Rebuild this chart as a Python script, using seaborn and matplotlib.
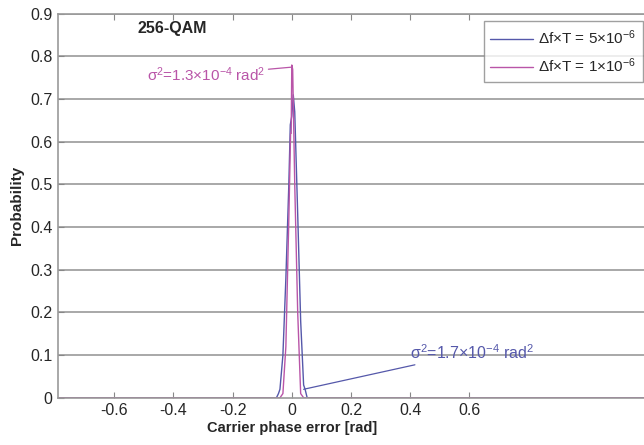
import numpy as np
import pandas as pd
import matplotlib
matplotlib.use("Agg")
import matplotlib.pyplot as plt
import seaborn as sns

# phase error histograms
x_5e6 = [-0.8, -0.06, -0.052, -0.045, -0.04, -0.03, -0.02, -0.01, -0.005, 0.0, 0.005, 0.01, 0.02, 0.03, 0.04, 0.045, 0.052, 0.06, 1.2]
p_5e6 = [0.0, 0.0, 0.0, 0.01, 0.02, 0.10, 0.28, 0.50, 0.64, 0.66, 0.71, 0.67, 0.43, 0.18, 0.03, 0.02, 0.0, 0.0, 0.0]

x_1e6 = [-0.8, -0.04, -0.03, -0.02, -0.01, -0.004, -0.002, 0.0, 0.003, 0.01, 0.02, 0.03, 0.04, 1.2]
p_1e6 = [0.0, 0.0, 0.01, 0.12, 0.42, 0.62, 0.62, 0.78, 0.77, 0.50, 0.20, 0.01, 0.0, 0.0]

xticks = [-0.6, -0.4, -0.2, 0, 0.2, 0.4, 0.6]
xtick_labels = ["-0.6", "-0.4", "-0.2", "0", "0.2", "0.4", "0.6"]
yticks = [0, 0.1, 0.2, 0.3, 0.4, 0.5, 0.6, 0.7, 0.8, 0.9]
ytick_labels = ["0", "0.1", "0.2", "0.3", "0.4", "0.5", "0.6", "0.7", "0.8", "0.9"]

blue = "#5558aa"
magenta = "#b955a8"

sns.set_style("white")
plt.rcParams["font.family"] = ["Liberation Sans", "DejaVu Sans"]
plt.rcParams["mathtext.fontset"] = "custom"
plt.rcParams["mathtext.rm"] = "Liberation Sans"
plt.rcParams["mathtext.it"] = "Liberation Sans:italic"

fig = plt.figure(figsize=(6.44, 4.45), dpi=100)
ax = fig.add_axes([0.09, 0.106, 0.91, 0.863])

for y in yticks[1:]:
    ax.axhline(y, color="#a8a8a8", lw=1.4, zorder=0)

sns.lineplot(x=x_5e6, y=p_5e6, ax=ax, color=blue, lw=1.0,
             label="Δf×T = 5×10$^{-6}$", sort=False)
sns.lineplot(x=x_1e6, y=p_1e6, ax=ax, color=magenta, lw=1.0,
             label="Δf×T = 1×10$^{-6}$", sort=False)

xmin, xmax = -0.79, 1.19
ax.set_xlim(xmin, xmax)
ax.set_ylim(0, 0.9)
ax.set_xticks(xticks)
ax.set_xticklabels(xtick_labels)
ax.set_yticks(yticks)
ax.set_yticklabels(ytick_labels)
ax.tick_params(direction="in", length=4, color="#888888", labelsize=11.5,
               top=True, bottom=True, left=True, pad=4)

for s in ["left", "top", "bottom"]:
    ax.spines[s].set_color("#999999")
    ax.spines[s].set_linewidth(1.2)
ax.spines["right"].set_visible(False)

ax.set_xlabel("Carrier phase error [rad]", fontsize=10.5, fontweight="bold")
ax.xaxis.set_label_coords((0 - xmin) / (xmax - xmin), -0.06)
ax.set_ylabel("Probability", fontsize=11, fontweight="bold", labelpad=4)

ax.text(-0.52, 0.865, "256-QAM", fontsize=11.5, fontweight="bold", va="center")

ax.annotate("σ$^2$=1.3×10$^{-4}$ rad$^2$", xy=(0.0, 0.775), xytext=(-0.09, 0.757),
            ha="right", va="center", fontsize=11, color=magenta,
            arrowprops=dict(arrowstyle="-", color=magenta, lw=0.9, shrinkA=0, shrinkB=0))
ax.annotate("σ$^2$=1.7×10$^{-4}$ rad$^2$", xy=(0.04, 0.02), xytext=(0.40, 0.107),
            ha="left", va="center", fontsize=11.5, color=blue,
            arrowprops=dict(arrowstyle="-", color=blue, lw=0.9, shrinkA=0, shrinkB=0))

leg = ax.legend(loc="upper right", bbox_to_anchor=(0.998, 0.98), fontsize=11,
                frameon=True, fancybox=False, handlelength=2.8, handletextpad=0.3,
                borderpad=0.45, borderaxespad=0.0, labelspacing=0.65)
leg.get_frame().set_edgecolor("#888888")
leg.get_frame().set_linewidth(1.0)

fig.savefig("out.png", dpi=100)
